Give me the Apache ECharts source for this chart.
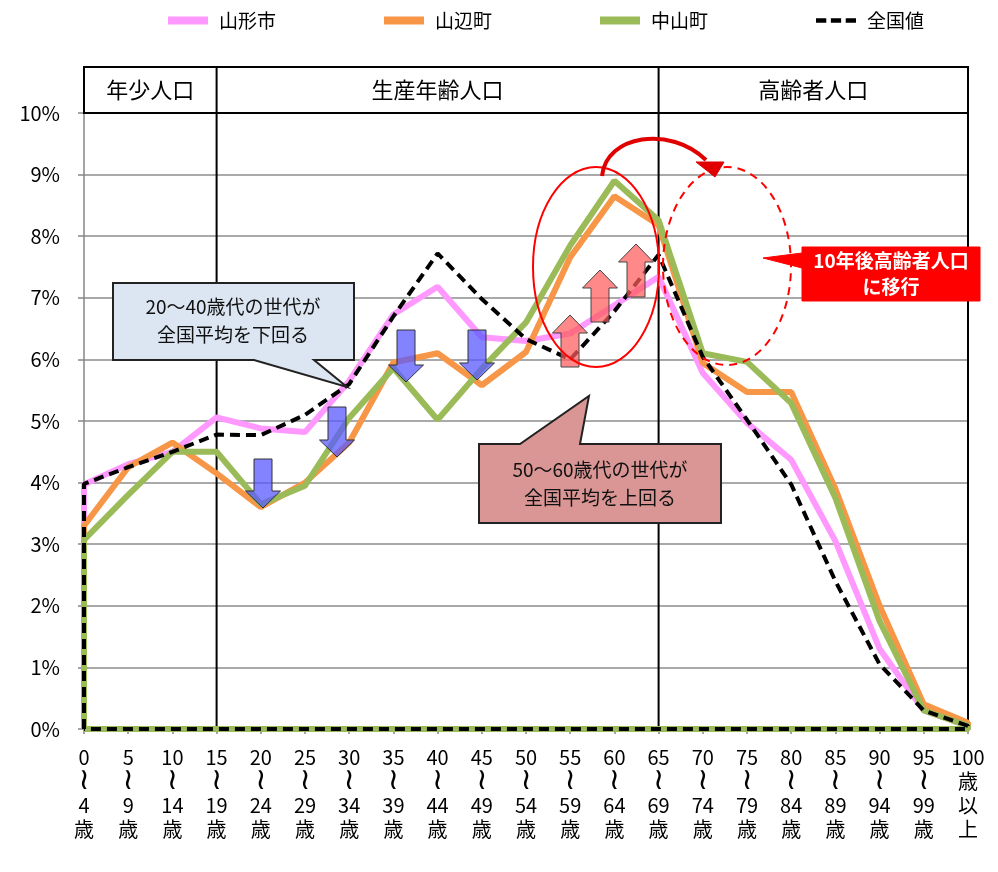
<!DOCTYPE html>
<html><head><meta charset="utf-8">
<script src="https://cdn.jsdelivr.net/npm/echarts@6/dist/echarts.min.js"></script>
<style>html,body{margin:0;padding:0;background:#fff}#c{width:998px;height:872px}</style>
</head><body><div id="c"></div>
<script>
// ---- data ----
const categories = ['0\n〜\n4\n歳','5\n〜\n9\n歳','10\n〜\n14\n歳','15\n〜\n19\n歳','20\n〜\n24\n歳','25\n〜\n29\n歳','30\n〜\n34\n歳','35\n〜\n39\n歳','40\n〜\n44\n歳','45\n〜\n49\n歳','50\n〜\n54\n歳','55\n〜\n59\n歳','60\n〜\n64\n歳','65\n〜\n69\n歳','70\n〜\n74\n歳','75\n〜\n79\n歳','80\n〜\n84\n歳','85\n〜\n89\n歳','90\n〜\n94\n歳','95\n〜\n99\n歳','100\n歳\n以\n上'];
const yamagata = [3.97,4.3,4.5,5.06,4.88,4.82,5.65,6.73,7.18,6.36,6.3,6.42,6.88,7.34,5.78,4.97,4.37,3.05,1.3,0.3,0.05];
const yamanobe = [3.3,4.25,4.65,4.15,3.6,4.0,4.65,5.95,6.1,5.58,6.12,7.66,8.65,8.18,5.94,5.47,5.47,3.9,2.0,0.4,0.1];
const nakayama = [3.07,3.8,4.5,4.5,3.65,3.95,5.05,5.86,5.02,5.85,6.6,7.85,8.9,8.26,6.1,5.96,5.29,3.75,1.75,0.3,0.05];
const national = [3.98,4.25,4.5,4.78,4.77,5.1,5.6,6.7,7.72,6.98,6.33,6.0,6.78,7.7,6.04,5.02,3.97,2.4,1.05,0.3,0.05];
const seriesNames = ['山形市','山辺町','中山町','全国値'];
const yTicks = [0,1,2,3,4,5,6,7,8,9,10];
const groups = [{name:'年少人口', from:0, to:3},{name:'生産年齢人口', from:3, to:13},{name:'高齢者人口', from:13, to:20}];

const FONT = '"Noto Sans CJK JP","Noto Sans",sans-serif';
function closed(vals){
  const pts = [[0,0]];
  vals.forEach((v,i)=>pts.push([i,v]));
  pts.push([vals.length-1,0]);
  pts.push([0,0]);
  return pts;
}
// vertical writing: the wave dash is shown as an upright wave
function catLabel(v){
  const s = categories[v];
  if (s === undefined) return '';
  return s.split('\n').map(l => l === '〜' ? '{t|≀}' : '{n|' + l + '}').join('\n');
}
const chart = echarts.init(document.getElementById('c'), null, {renderer:'canvas'});
const colors = ['#ff99ff','#f79646','#9bbb59','#000000'];
chart.setOption({
  animation:false,
  backgroundColor:'#fff',
  legend:{
    top:6, left:163, itemGap:108, itemWidth:40, itemHeight:8,
    textStyle:{fontSize:19, color:'#000', fontFamily:FONT, padding:[0,0,0,6]},
    data:[
      {name:seriesNames[0], icon:'rect'},
      {name:seriesNames[1], icon:'rect'},
      {name:seriesNames[2], icon:'rect'},
      {name:seriesNames[3], icon:'path://M0,0h9v4h-9z M13,0h9v4h-9z M26,0h9v4h-9z', itemStyle:{color:'#000'}}
    ]
  },
  grid:{left:84, right:30, top:113, bottom:143, containLabel:false, outerBoundsMode:'none'},
  xAxis:{
    type:'value', min:0, max:categories.length-1, interval:1,
    axisLine:{show:true, onZero:false, lineStyle:{color:'#868686', width:1.5}},
    axisTick:{show:true, length:5, lineStyle:{color:'#868686', width:1.5}},
    splitLine:{show:false},
    axisLabel:{fontSize:20, lineHeight:24, color:'#000', fontFamily:FONT, margin:16, verticalAlign:'top',
      formatter:catLabel,
      rich:{
        n:{fontSize:20, lineHeight:24, fontFamily:FONT, color:'#000'},
        t:{fontSize:30, lineHeight:24, fontFamily:'"DejaVu Sans",sans-serif', color:'#000'}
      }}
  },
  yAxis:{
    type:'value', min:yTicks[0], max:yTicks[yTicks.length-1], interval:1,
    axisLine:{show:true, lineStyle:{color:'#868686', width:1.5}},
    axisTick:{show:true, length:6, lineStyle:{color:'#868686', width:1.5}},
    splitLine:{show:true, lineStyle:{color:'#8c8c8c', width:1.5}},
    axisLabel:{fontSize:20, color:'#000', fontFamily:FONT, margin:24, formatter:v=>v+'%'}
  },
  series:[
    {name:seriesNames[0], type:'line', data:closed(yamagata), symbol:'none', lineStyle:{color:colors[0], width:6}, itemStyle:{color:colors[0]}},
    {name:seriesNames[1], type:'line', data:closed(yamanobe), symbol:'none', lineStyle:{color:colors[1], width:6}, itemStyle:{color:colors[1]}},
    {name:seriesNames[2], type:'line', data:closed(nakayama), symbol:'none', lineStyle:{color:colors[2], width:6}, itemStyle:{color:colors[2]}},
    {name:seriesNames[3], type:'line', data:closed(national), symbol:'none', lineStyle:{color:'#000', width:4, type:[10,6]}, itemStyle:{color:'#000'}}
  ]
});

// ---- annotations ----
const P = (i,v)=>chart.convertToPixel({gridIndex:0},[i,v]);
const g = [];
const top0 = P(0,10)[1];
const bot0 = P(0,0)[1];
const hTop = top0 - 46;
const xL = P(0,0)[0], xR = P(20,0)[0];
g.push({type:'rect', shape:{x:xL, y:hTop, width:xR-xL, height:top0-hTop}, style:{fill:'none', stroke:'#000', lineWidth:2}, z:50});
groups.forEach(gr=>{
  const a = P(gr.from,0)[0], b = P(gr.to,0)[0];
  g.push({type:'text', style:{text:gr.name, x:(a+b)/2, y:(hTop+top0)/2, align:'center', verticalAlign:'middle', font:'22px '+FONT, fill:'#000'}, z:50});
});
[3,13,20].forEach(i=>{
  const x = P(i,0)[0];
  g.push({type:'line', shape:{x1:x, y1:hTop, x2:x, y2:bot0+3}, style:{stroke:'#000', lineWidth:2}, z:1});
});
function downArrow(cx,yt,yb){
  return {type:'polygon', shape:{points:[[cx-9,yt],[cx+9,yt],[cx+9,yb-17],[cx+17.5,yb-17],[cx,yb],[cx-17.5,yb-17],[cx-9,yb-17]]},
    style:{fill:'rgba(90,90,255,0.75)', stroke:'#333', lineWidth:1}, z:60};
}
function upArrow(cx,yt,yb){
  return {type:'polygon', shape:{points:[[cx-9,yb],[cx+9,yb],[cx+9,yt+18],[cx+17.5,yt+18],[cx,yt],[cx-17.5,yt+18],[cx-9,yt+18]]},
    style:{fill:'rgba(255,90,90,0.72)', stroke:'#444', lineWidth:1}, z:60};
}
g.push(downArrow(263,459,508), downArrow(337,407,457), downArrow(406,330,382), downArrow(477,330,380));
g.push(upArrow(570,315,367), upArrow(600,270,322), upArrow(636,244,297));
g.push({type:'polygon', shape:{points:[[113,283],[354,283],[354,360],[314,360],[347,387],[254,360],[113,360]]},
  style:{fill:'#dce6f2', stroke:'#222', lineWidth:2}, z:70});
g.push({type:'text', style:{text:'20〜40歳代の世代が\n全国平均を下回る', x:233, y:321, align:'center', verticalAlign:'middle', font:'19px '+FONT, lineHeight:28, fill:'#111'}, z:71});
g.push({type:'polygon', shape:{points:[[479,444],[520,444],[589,396],[580,444],[721,444],[721,523],[479,523]]},
  style:{fill:'#d99694', stroke:'#222', lineWidth:2}, z:70});
g.push({type:'text', style:{text:'50〜60歳代の世代が\n全国平均を上回る', x:600, y:484, align:'center', verticalAlign:'middle', font:'19px '+FONT, lineHeight:28, fill:'#111'}, z:71});
g.push({type:'ellipse', shape:{cx:596, cy:267, rx:63, ry:100}, style:{fill:'none', stroke:'#ff0000', lineWidth:2}, z:65});
g.push({type:'ellipse', shape:{cx:727, cy:266, rx:64, ry:99}, style:{fill:'none', stroke:'#ff0000', lineWidth:2, lineDash:[8,6]}, z:65});
g.push({type:'bezierCurve', shape:{x1:602, y1:176, cpx1:606, cpy1:135, cpx2:670, cpy2:125, x2:706, y2:160}, style:{fill:'none', stroke:'#e00000', lineWidth:4}, z:66});
g.push({type:'polygon', shape:{points:[[696,162],[724,162],[715,177]]}, style:{fill:'#e00000', stroke:'#e00000', lineWidth:1}, z:66});
g.push({type:'polygon', shape:{points:[[802,247],[980,247],[980,301],[802,301],[802,268],[763,258],[802,253]]},
  style:{fill:'#ff0000', stroke:'#ff0000', lineWidth:1}, z:70});
g.push({type:'text', style:{text:'10年後高齢者人口\nに移行', x:891, y:274, align:'center', verticalAlign:'middle', font:'bold 19px '+FONT, lineHeight:26, fill:'#fff'}, z:71});
chart.setOption({graphic:g});
</script>
</body></html>
